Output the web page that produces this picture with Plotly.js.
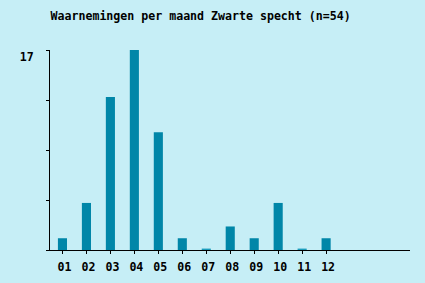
<!DOCTYPE html>
<html>
<head>
<meta charset="utf-8">
<script src="https://cdn.plot.ly/plotly-3.0.1.min.js"></script>
<style>html,body{margin:0;padding:0;background:#c6eef6;}#chart{width:425px;height:283px;}</style>
</head>
<body>
<div id="chart"></div>
<script>
const months = ['01','02','03','04','05','06','07','08','09','10','11','12'];
const counts = [1,4,13,17,10,1,0,2,1,4,0,1];
const yTickVals = [0,4.25,8.5,12.75,17];
const yTickText = ['','','','','17'];
const titleText = 'Waarnemingen per maand Zwarte specht (n=54)';

const FONT = {family:'DejaVu Sans Mono, Liberation Mono, monospace', size:11.6, color:'#000', weight:'bold'};
const xs = months.map((m,i)=>i);
const zeroMark = counts.map(v => v === 0 ? 0.12 : null);

const traces = [
  {type:'bar', x: xs, y: counts, marker:{color:'#0086a8', line:{width:0}}, width:0.38, hoverinfo:'none'},
  {type:'bar', x: xs, y: zeroMark, marker:{color:'#1a9cbc', line:{width:0}}, width:0.38, hoverinfo:'none'}
];
const layout = {
  width:425, height:283,
  paper_bgcolor:'#c6eef6', plot_bgcolor:'#c6eef6',
  margin:{l:50, r:15, t:50, b:33, pad:0},
  showlegend:false, barmode:'overlay',
  title:{text:titleText, font:FONT, x:0.472, xref:'container', xanchor:'center', y:1-16/283, yref:'container', yanchor:'middle'},
  xaxis:{range:[-0.52,14.5], tickvals:xs, ticktext:months, ticks:'outside', ticklen:3, tickcolor:'#000', tickwidth:1,
         showline:true, linecolor:'#000', linewidth:1, showgrid:false, zeroline:false, tickfont:FONT, ticklabelshift:2, ticklabelstandoff:3, fixedrange:true},
  yaxis:{range:[0,17], tickvals:yTickVals, ticktext:yTickText, ticks:'outside', ticklen:3, tickcolor:'#000', tickwidth:1,
         showline:true, linecolor:'#000', linewidth:1, showgrid:false, zeroline:false, tickfont:FONT, ticklabelshift:7, ticklabelstandoff:10, fixedrange:true}
};
Plotly.newPlot('chart', traces, layout, {displayModeBar:false, staticPlot:true});
</script>
</body>
</html>
